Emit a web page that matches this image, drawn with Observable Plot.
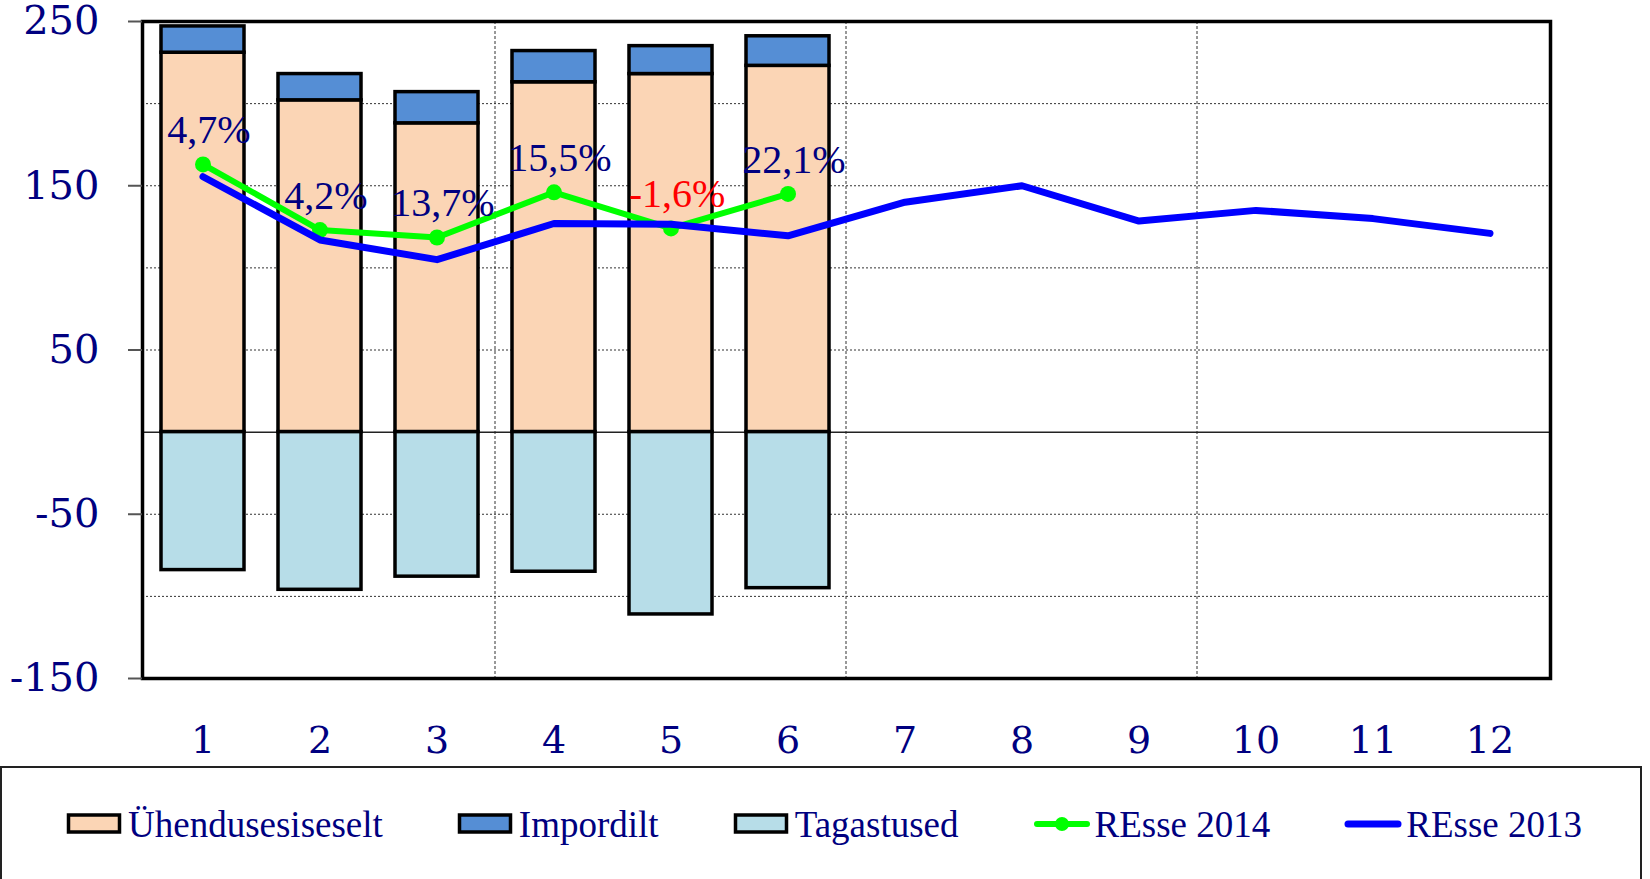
<!DOCTYPE html>
<html>
<head>
<meta charset="utf-8">
<script src="https://cdn.jsdelivr.net/npm/d3@7"></script>
<script src="https://cdn.jsdelivr.net/npm/@observablehq/plot@0.6"></script>
<style>
  html, body { margin: 0; padding: 0; background: #fff; }
  body { width: 1650px; height: 879px; overflow: hidden; position: relative; }
  #chart { position: absolute; left: 0; top: 0; }
  #legendBox { position: absolute; left: 0; top: 766px; width: 1642px; height: 160px;
    border: 2px solid #222; box-sizing: border-box; background: #fff; }
  #legendRow { position: absolute; left: 66px; top: 804px; height: 40px; display: flex; align-items: center;
    font-family: "Liberation Serif", serif; font-size: 37px; color: #000080; white-space: nowrap; }
  .item { display: flex; align-items: center; margin-right: 74px; }
  .item svg { margin-right: 4px; display: block; }
</style>
</head>
<body>
<div id="chart"></div>
<div id="legendBox"></div>
<div id="legendRow"></div>
<script>
// ---- data ----
const months = ["1","2","3","4","5","6","7","8","9","10","11","12"];
const barMonths = ["1","2","3","4","5","6"];
const uhendusesiseselt = [231, 202, 188, 213, 218, 223];
const impordilt = [16, 16, 19, 19, 17, 18];
const tagastused = [-84, -96, -88, -85, -111, -95];
const resse2014 = [163, 123, 118.5, 146, 124, 145];
const resse2013 = [155.5, 117, 105, 127, 126.5, 119.5, 140, 150, 128.5, 135, 130, 121];
const changeLabels = ["4,7%", "4,2%", "13,7%", "15,5%", "-1,6%", "22,1%"];
const yTicks = [250, 150, 50, -50, -150];
const yGrid = [-100, -50, 50, 100, 150, 200];
const gridAfterMonths = ["3", "6", "9"];
const seriesNames = ["Ühendusesiseselt", "Impordilt", "Tagastused", "REsse 2014", "REsse 2013"];
const seriesColors = ["#FBD5B5", "#558ED5", "#B7DDE8", "#00FF00", "#0000FF"];

// ---- tables built from the arrays ----
const barData = [];
barMonths.forEach((m, i) => {
  barData.push({month: m, series: seriesNames[0], value: uhendusesiseselt[i]});
  barData.push({month: m, series: seriesNames[1], value: impordilt[i]});
  barData.push({month: m, series: seriesNames[2], value: tagastused[i]});
});
const data2014 = resse2014.map((v, i) => ({month: months[i], value: v, label: changeLabels[i]}));
const data2013 = resse2013.map((v, i) => ({month: months[i], value: v}));

const NAVY = "#000080";

const vGrid = (index, scales, values, dims) => {
  const x = scales.x;
  const g = d3.create("svg:g");
  for (const m of gridAfterMonths) {
    const px = x(m) + x.bandwidth() + (x.step() - x.bandwidth()) / 2;
    g.append("line")
      .attr("x1", px).attr("x2", px)
      .attr("y1", dims.marginTop).attr("y2", dims.height - dims.marginBottom)
      .attr("stroke", "#333").attr("stroke-width", 1).attr("stroke-dasharray", "3,2");
  }
  return g.node();
};

const chart = Plot.plot({
  width: 1650,
  height: 766,
  marginLeft: 142,
  marginRight: 100,
  marginTop: 21,
  marginBottom: 88,
  style: {fontFamily: "DejaVu Serif", background: "white", overflow: "visible"},
  x: {type: "band", domain: months, paddingInner: 0.29, paddingOuter: 0.145, align: 0.5},
  y: {domain: [-150, 250]},
  color: {domain: seriesNames.slice(0, 3), range: seriesColors.slice(0, 3)},
  marks: [
    Plot.ruleY(yGrid, {stroke: "#333", strokeWidth: 1, strokeDasharray: "2,2"}),
    vGrid,
    Plot.ruleY([0], {stroke: "#222", strokeWidth: 1.5}),
    Plot.barY(barData, {x: "month", y: "value", fill: "series", stroke: "black", strokeWidth: 3.5, order: seriesNames}),
    Plot.frame({stroke: "black", strokeWidth: 3.5}),
    Plot.lineY(data2014, {x: "month", y: "value", stroke: seriesColors[3], strokeWidth: 6, strokeLinecap: "round"}),
    Plot.dot(data2014, {x: "month", y: "value", r: 8, fill: seriesColors[3]}),
    Plot.lineY(data2013, {x: "month", y: "value", stroke: seriesColors[4], strokeWidth: 7, strokeLinecap: "round"}),
    Plot.text(data2014.filter(d => !d.label.startsWith("-")), {x: "month", y: "value", text: "label",
      fill: NAVY, dy: -34, dx: 6, fontSize: 40, fontFamily: "Liberation Serif", lineAnchor: "middle"}),
    Plot.text(data2014.filter(d => d.label.startsWith("-")), {x: "month", y: "value", text: "label",
      fill: "#FF0000", dy: -34, dx: 6, fontSize: 40, fontFamily: "Liberation Serif", lineAnchor: "middle"}),
    Plot.axisY({ticks: yTicks, tickSize: 14, tickPadding: 29, tickFormat: d => String(d),
      fontSize: 40, fontFamily: "DejaVu Serif", fill: NAVY, stroke: "#555", strokeWidth: 2, label: null}),
    Plot.axisX({tickSize: 0, tickPadding: 48, fontSize: 38, fontFamily: "DejaVu Serif", fill: NAVY, label: null})
  ]
});
document.getElementById("chart").appendChild(chart);

// ---- legend ----
const row = document.getElementById("legendRow");
const NS = "http://www.w3.org/2000/svg";
seriesNames.forEach((name, i) => {
  const item = document.createElement("div");
  item.className = "item";
  const svg = document.createElementNS(NS, "svg");
  svg.setAttribute("width", 58);
  svg.setAttribute("height", 24);
  if (i < 3) {
    const r = document.createElementNS(NS, "rect");
    r.setAttribute("x", 2.5); r.setAttribute("y", 3); r.setAttribute("width", 51); r.setAttribute("height", 17);
    r.setAttribute("fill", seriesColors[i]); r.setAttribute("stroke", "black"); r.setAttribute("stroke-width", 3.5);
    svg.appendChild(r);
  } else {
    const l = document.createElementNS(NS, "line");
    l.setAttribute("x1", 4); l.setAttribute("x2", 54); l.setAttribute("y1", 12); l.setAttribute("y2", 12);
    l.setAttribute("stroke", seriesColors[i]); l.setAttribute("stroke-width", i === 3 ? 6 : 7);
    l.setAttribute("stroke-linecap", "round");
    svg.appendChild(l);
    if (i === 3) {
      const c = document.createElementNS(NS, "circle");
      c.setAttribute("cx", 29); c.setAttribute("cy", 12); c.setAttribute("r", 7); c.setAttribute("fill", seriesColors[i]);
      svg.appendChild(c);
    }
  }
  item.appendChild(svg);
  const span = document.createElement("span");
  span.textContent = name;
  item.appendChild(span);
  row.appendChild(item);
});
</script>
</body>
</html>
